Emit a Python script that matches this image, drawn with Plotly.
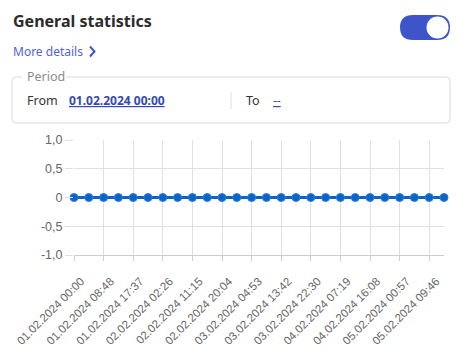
import plotly.graph_objects as go

# ---- data ----
timestamps = [
    "01.02.2024 00:00", "01.02.2024 04:24", "01.02.2024 08:48", "01.02.2024 13:13",
    "01.02.2024 17:37", "01.02.2024 22:02", "02.02.2024 02:26", "02.02.2024 06:51",
    "02.02.2024 11:15", "02.02.2024 15:40", "02.02.2024 20:04", "03.02.2024 00:28",
    "03.02.2024 04:53", "03.02.2024 09:17", "03.02.2024 13:42", "03.02.2024 18:06",
    "03.02.2024 22:30", "04.02.2024 02:55", "04.02.2024 07:19", "04.02.2024 11:44",
    "04.02.2024 16:08", "04.02.2024 20:33", "05.02.2024 00:57", "05.02.2024 05:22",
    "05.02.2024 09:46", "05.02.2024 14:10",
]
values = [0] * 26
x_tick_labels = timestamps[::2]
y_tick_values = [-1.0, -0.5, 0, 0.5, 1.0]
y_tick_labels = ["-1,0", "-0,5", "0", "0,5", "1,0"]

OFF = 8  # page body margin
W, H = 461 - OFF, 357 - OFF
# plot area in page pixels: x 74..444, y 140..255
L, T = 74 - OFF, 140 - OFF
R, B = W - (444 - OFF), H - (255 - OFF)
PW, PH = W - L - R, H - T - B


def px(x):
    return (x - OFF - L) / PW


def py(y):
    return (H - B - (y - OFF)) / PH


fig = go.Figure()
fig.add_trace(go.Scatter(
    x=timestamps, y=values, mode="lines+markers", cliponaxis=False,
    line=dict(color="#0a64c8", width=3),
    marker=dict(color="#0a64c8", size=8, line=dict(color="#2f7ed8", width=1)),
    hoverinfo="x+y", showlegend=False,
))

fig.update_xaxes(
    type="category", range=[0, len(timestamps) - 1], automargin=False,
    tickmode="array", tickvals=x_tick_labels, ticktext=x_tick_labels,
    tickangle=-45, tickfont=dict(family="Liberation Sans, Arial", size=11.5, color="#666"),
    ticklabelshift=7, ticklabelstandoff=9,
    showgrid=True, gridcolor="#e0e0e0", gridwidth=1,
    showline=True, linecolor="#cccccc", linewidth=1,
    ticks="outside", ticklen=5, tickcolor="#cccccc",
    zeroline=False,
)
fig.update_yaxes(
    range=[-1.0, 1.0], tickmode="array", tickvals=y_tick_values, ticktext=y_tick_labels,
    automargin=False,
    tickfont=dict(family="Liberation Sans, Arial", size=12.5, color="#666"),
    showgrid=True, gridcolor="#e0e0e0", gridwidth=1,
    ticks="outside", ticklen=8, tickcolor="#dddddd",
    zeroline=False, showline=False,
)

shapes = []
# toggle
shapes.append(dict(type="path", xref="paper", yref="paper",
                   path=(f"M {px(413)},{py(15)} L {px(437)},{py(15)} "
                         f"Q {px(450)},{py(15)} {px(450)},{py(27.5)} "
                         f"Q {px(450)},{py(40)} {px(437)},{py(40)} "
                         f"L {px(413)},{py(40)} "
                         f"Q {px(400)},{py(40)} {px(400)},{py(27.5)} "
                         f"Q {px(400)},{py(15)} {px(413)},{py(15)} Z"),
                   fillcolor="#3d55c8", line=dict(width=0), layer="above"))
shapes.append(dict(type="circle", xref="paper", yref="paper",
                   x0=px(426.5), x1=px(448.5), y0=py(16.5), y1=py(38.5),
                   fillcolor="white", line=dict(width=0), layer="above"))
# chevron after "More details"
shapes.append(dict(type="path", xref="paper", yref="paper",
                   path=f"M {px(90)},{py(46.5)} L {px(94.5)},{py(51.5)} L {px(90)},{py(56.5)}",
                   line=dict(color="#3d55c8", width=2), layer="above"))
# period box
bx0, bx1, by0, by1, r = 12, 450, 77, 123, 4
shapes.append(dict(type="path", xref="paper", yref="paper",
                   path=(f"M {px(bx0+r)},{py(by0)} L {px(bx1-r)},{py(by0)} "
                         f"Q {px(bx1)},{py(by0)} {px(bx1)},{py(by0+r)} "
                         f"L {px(bx1)},{py(by1-r)} "
                         f"Q {px(bx1)},{py(by1)} {px(bx1-r)},{py(by1)} "
                         f"L {px(bx0+r)},{py(by1)} "
                         f"Q {px(bx0)},{py(by1)} {px(bx0)},{py(by1-r)} "
                         f"L {px(bx0)},{py(by0+r)} "
                         f"Q {px(bx0)},{py(by0)} {px(bx0+r)},{py(by0)} Z"),
                   fillcolor="rgba(0,0,0,0)", line=dict(color="#d9d9d9", width=1), layer="above"))
# gap behind legend text
shapes.append(dict(type="rect", xref="paper", yref="paper",
                   x0=px(22), x1=px(66), y0=py(80), y1=py(74),
                   fillcolor="white", line=dict(width=0), layer="above"))
# divider
shapes.append(dict(type="line", xref="paper", yref="paper",
                   x0=px(231), x1=px(231), y0=py(92), y1=py(109),
                   line=dict(color="#e0e0e0", width=1), layer="above"))

font_ui = "Noto Sans, Open Sans, sans-serif"
annotations = [
    dict(text="<b>General statistics</b>", x=px(11), y=py(21), xanchor="left", yanchor="middle",
         font=dict(family=font_ui, size=16, color="#2b2b2b")),
    dict(text="More details", x=px(11), y=py(51), xanchor="left", yanchor="middle",
         font=dict(family=font_ui, size=12, color="#5463d6")),
    dict(text="Period", x=px(25), y=py(76), xanchor="left", yanchor="middle",
         font=dict(family=font_ui, size=12.5, color="#8a8a8a")),
    dict(text="From", x=px(25), y=py(100), xanchor="left", yanchor="middle",
         font=dict(family=font_ui, size=12.5, color="#333333")),
    dict(text="<b><u>01.02.2024 00:00</u></b>", x=px(67), y=py(100), xanchor="left", yanchor="middle",
         font=dict(family=font_ui, size=12, color="#3548b4")),
    dict(text="To", x=px(244), y=py(100), xanchor="left", yanchor="middle",
         font=dict(family=font_ui, size=12.5, color="#333333")),
    dict(text="<u>--</u>", x=px(271), y=py(100), xanchor="left", yanchor="middle",
         font=dict(family=font_ui, size=12, color="#3548b4")),
]
for a in annotations:
    a.update(xref="paper", yref="paper", showarrow=False)

fig.update_layout(
    width=W, height=H, autosize=False,
    margin=dict(l=L, r=R, t=T, b=B, pad=0, autoexpand=False),
    paper_bgcolor="white", plot_bgcolor="white",
    shapes=shapes, annotations=annotations,
)

fig.write_html("out.html", config={"displayModeBar": False})
